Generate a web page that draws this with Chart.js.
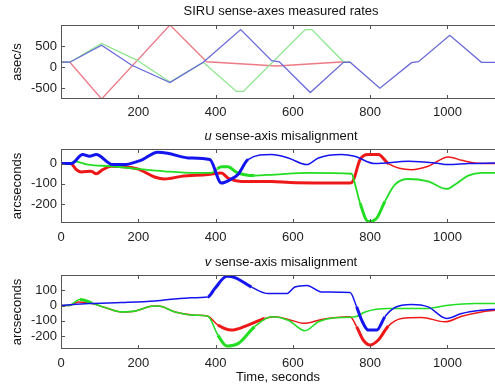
<!DOCTYPE html>
<html>
<head>
<meta charset="utf-8">
<script src="https://cdn.jsdelivr.net/npm/chart.js@4.4.1/dist/chart.umd.min.js"></script>
<style>
  html, body { margin: 0; padding: 0; background: #fff; }
  #wrap { position: relative; width: 495px; height: 387px; overflow: hidden; }
  canvas { position: absolute; left: 0; }
</style>
</head>
<body>
<div id="wrap">
  <canvas id="rates" width="495" height="125" style="top:0"></canvas>
  <canvas id="umis" width="495" height="125" style="top:125px"></canvas>
  <canvas id="vmis" width="495" height="137" style="top:250px"></canvas>
</div>
<script>
// --- data (time in seconds) ---
const rateBlueX = [0, 23, 105, 182, 282, 368, 465, 545, 565, 645, 731, 748, 825, 907, 925, 1006, 1088, 1123];
const rateBlueY = [120, 120, 523, 54, -361, 117, 892, 155, 131, -596, 117, 120, -493, 108, 131, 758, 117, 117];
const rateGreenX = [0, 23, 105, 196, 282, 368, 454, 472, 632, 649, 731, 748];
const rateGreenY = [120, 120, 563, 171, -350, 117, -572, -572, 892, 892, 131, 120];
const rateRedX = [0, 23, 105, 282, 377, 558, 735];
const rateRedY = [120, 120, -750, 1000, 131, 30, 131];

const uBlueX = [0, 27, 56, 74, 91, 134, 164, 198, 211, 250, 276, 329, 385, 415, 441, 458, 484, 545, 588, 636, 666, 726, 760, 812, 899, 968, 1002, 1054, 1123];
const uBlueY = [0, 0, 45, 36, 45, -5, -5, 11, 20, 56, 51, 28, 20, -96, -76, -54, 20, 45, 28, -5, 28, 45, 36, 0, 11, 3, -5, 0, 3];
const uRedX = [0, 25, 40, 53, 78, 91, 108, 130, 198, 242, 268, 311, 380, 415, 432, 466, 545, 593, 747, 755, 774, 795, 821, 847, 907, 950, 1002, 1037, 1071, 1123];
const uRedY = [0, 0, -30, -41, -38, -50, -30, -13, -26, -66, -76, -63, -54, -46, -71, -88, -88, -93, -96, -88, 20, 45, 45, 0, -30, -13, 33, 16, 3, 0];
const uGreenX = [0, 25, 35, 70, 130, 198, 268, 346, 389, 405, 415, 432, 454, 501, 553, 640, 752, 760, 774, 795, 817, 838, 864, 899, 950, 998, 1019, 1054, 1088, 1123];
const uGreenY = [0, 0, 11, -5, -13, -26, -38, -46, -46, -25, -16, -16, -43, -59, -54, -46, -50, -96, -195, -286, -269, -187, -104, -76, -88, -125, -104, -59, -46, -46];

const vBlueX = [0, 72, 157, 243, 329, 380, 398, 429, 450, 493, 536, 584, 605, 636, 674, 748, 765, 778, 795, 817, 838, 864, 907, 950, 998, 1037, 1088, 1123];
const vBlueY = [0, 13, 20, 30, 50, 56, 111, 191, 183, 121, 78, 78, 121, 132, 89, 85, -9, -96, -161, -161, -74, -13, 7, -9, -85, -52, -31, -24];
const vRedX = [0, 20, 45, 80, 114, 157, 191, 234, 252, 295, 346, 380, 406, 441, 484, 527, 553, 588, 631, 674, 748, 765, 782, 800, 821, 847, 881, 933, 994, 1037, 1088, 1123];
const vRedY = [0, 0, 23, 13, -13, -42, -37, -5, -3, -42, -63, -70, -128, -161, -128, -85, -74, -91, -117, -91, -74, -139, -226, -259, -226, -135, -85, -78, -107, -70, -42, -31];
const vGreenX = [0, 20, 49, 80, 114, 157, 191, 234, 252, 295, 346, 380, 406, 429, 459, 501, 545, 588, 631, 666, 709, 761, 787, 847, 945, 1002, 1071, 1123];
const vGreenY = [0, 0, 39, 17, -13, -42, -37, -5, -3, -42, -63, -70, -194, -265, -248, -139, -74, -96, -165, -107, -80, -74, -42, -20, -20, 2, 13, 13];

const xTicksTop = [200, 400, 600, 800, 1000];
const xTicks = [0, 200, 400, 600, 800, 1000];
const rateTicks = [-500, 0, 500];
const uTicks = [-200, -100, 0];
const vTicks = [-200, -100, 0, 100];

const X_MAX = 1123;
const FONT = "'Liberation Sans', Arial, sans-serif";

// inward tick marks, box and panel title (MATLAB look)
const frame = {
  id: "frame",
  afterDatasetsDraw(chart, args, opts) {
    const { ctx, chartArea: a, scales } = chart;
    ctx.save();
    ctx.strokeStyle = "#555";
    ctx.lineWidth = 1;
    ctx.beginPath();
    scales.x.ticks.forEach((t) => {
      const px = Math.round(scales.x.getPixelForValue(t.value)) + 0.5;
      ctx.moveTo(px, a.bottom); ctx.lineTo(px, a.bottom - 4);
      ctx.moveTo(px, a.top); ctx.lineTo(px, a.top + 4);
    });
    scales.y.ticks.forEach((t) => {
      const py = Math.round(scales.y.getPixelForValue(t.value)) + 0.5;
      ctx.moveTo(a.left, py); ctx.lineTo(a.left + 4, py);
    });
    ctx.stroke();
    ctx.strokeRect(Math.round(a.left) + 0.5, Math.round(a.top) + 0.5, a.width + 5, Math.round(a.height) - 1);

    ctx.fillStyle = "#111";
    ctx.textBaseline = "middle";
    ctx.textAlign = "left";
    const rest = opts.title;
    const it = opts.italic || "";
    ctx.font = `italic 13px ${FONT}`;
    const wi = ctx.measureText(it).width;
    ctx.font = `13px ${FONT}`;
    const wr = ctx.measureText(rest).width;
    let x0 = 281 - (wi + wr) / 2;
    if (it) {
      ctx.font = `italic 13px ${FONT}`;
      ctx.fillText(it, x0, opts.titleY);
      ctx.font = `13px ${FONT}`;
    }
    ctx.fillText(rest, x0 + wi, opts.titleY);
    ctx.restore();
  },
};

const pts = (xs, ys) => xs.map((x, i) => ({ x, y: ys[i] }));
const inRanges = (ranges, x) => ranges.some(([a, b]) => x >= a && x < b);

function line(xs, ys, color, width, thick) {
  const ds = {
    data: pts(xs, ys),
    borderColor: color,
    borderWidth: width,
    pointRadius: 0,
    fill: false,
  };
  if (thick) {
    ds.cubicInterpolationMode = "monotone";
    ds.segment = { borderWidth: (c) => (inRanges(thick, c.p0.parsed.x) ? 3 : width) };
  } else {
    ds.tension = 0;
  }
  return ds;
}

function makeChart(id, cfg) {
  const tickFont = { family: FONT, size: 13 };
  new Chart(document.getElementById(id), {
    type: "line",
    data: { datasets: cfg.datasets },
    plugins: [frame],
    options: {
      responsive: false,
      animation: false,
      events: [],
      layout: { padding: { top: cfg.top, left: 0, right: 0, bottom: 0 } },
      plugins: {
        legend: { display: false },
        tooltip: { enabled: false },
        frame: { title: cfg.title, italic: cfg.italic, titleY: cfg.titleY },
      },
      scales: {
        x: {
          type: "linear",
          min: 0,
          max: X_MAX,
          grid: { display: false, drawTicks: false },
          border: { display: false },
          ticks: { padding: cfg.xPad, color: "#222", font: tickFont, maxRotation: 0, autoSkip: false, callback: (v) => String(v) },
          afterBuildTicks: (s) => { s.ticks = cfg.xTicks.map((v) => ({ value: v })); },
          afterFit: (s) => { s.height = cfg.xHeight; },
          title: cfg.xTitle
            ? { display: true, text: cfg.xTitle, color: "#111", font: tickFont, padding: { top: 0, bottom: 1.5 } }
            : { display: false },
        },
        y: {
          type: "linear",
          min: cfg.yMin,
          max: cfg.yMax,
          grid: { display: false, drawTicks: false },
          border: { display: false },
          ticks: { padding: 4, color: "#222", font: tickFont, autoSkip: false, callback: (v) => String(v) },
          afterBuildTicks: (s) => { s.ticks = cfg.yTicks.map((v) => ({ value: v })); },
          afterFit: (s) => { s.width = 61; },
          title: { display: true, text: cfg.yTitle, color: "#111", font: tickFont, padding: { top: 10, bottom: 0 } },
        },
      },
    },
  });
}

makeChart("rates", {
  top: 25, xHeight: 26, titleY: 11, xPad: 6,
  title: "SIRU sense-axes measured rates",
  yTitle: "asec/s", yMin: -750, yMax: 1000, yTicks: rateTicks, xTicks: xTicksTop,
  datasets: [
    line(rateBlueX, rateBlueY, "#6868d8", 1.3),
    line(rateGreenX, rateGreenY, "#8ee68e", 1.3),
    line(rateRedX, rateRedY, "#ee7a86", 1.3),
  ],
});

makeChart("umis", {
  top: 24, xHeight: 27, titleY: 11.5, xPad: 7,
  title: " sense-axis misalignment", italic: "u",
  yTitle: "arcseconds", yMin: -293, yMax: 72, yTicks: uTicks, xTicks: xTicks,
  datasets: [
    line(uBlueX, uBlueY, "#1414ee", 1.5, [[0, 470]]),
    line(uGreenX, uGreenY, "#22dd22", 1.8, [[390, 460], [770, 830]]),
    line(uRedX, uRedY, "#ee1818", 1.5, [[0, 830]]),
  ],
});

makeChart("vmis", {
  top: 25, xHeight: 38, titleY: 12, xPad: 7,
  title: " sense-axis misalignment", italic: "v",
  yTitle: "arcseconds", yMin: -285, yMax: 200, yTicks: vTicks, xTicks: xTicks,
  xTitle: "Time, seconds",
  datasets: [
    line(vBlueX, vBlueY, "#1414ee", 1.5, [[380, 470], [760, 830]]),
    line(vGreenX, vGreenY, "#22dd22", 1.6, [[30, 70], [390, 480]]),
    line(vRedX, vRedY, "#ee1818", 1.5, [[400, 490], [760, 830]]),
  ],
});
</script>
</body>
</html>
